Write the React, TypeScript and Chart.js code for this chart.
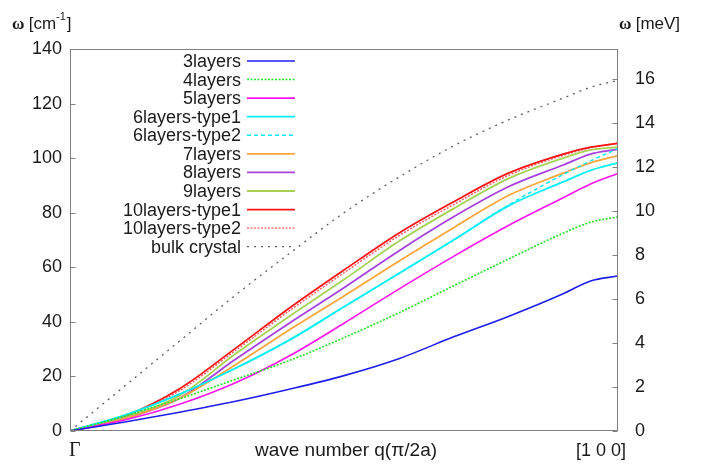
import React, { useEffect, useRef } from 'react';
import { Chart, registerables } from 'chart.js';

Chart.register(...registerables);

// wave number q in units of (pi/2a), from Gamma (0) to [1 0 0] (1)
const Q = [0, 0.1, 0.2, 0.3, 0.4, 0.5, 0.6, 0.7, 0.8, 0.9, 0.95, 1.0];

// omega in cm^-1
const layers3 = [0, 3.3, 6.9, 10.8, 15.3, 20.3, 26.5, 34.5, 42, 50.3, 55, 56.8];
const layers4 = [0, 5.5, 11.8, 18.8, 25.8, 34.2, 43.3, 53.2, 63, 72.5, 76.5, 78.5];
const layers5 = [0, 4, 9.8, 17.5, 27.5, 39.5, 52, 64, 75.3, 85.5, 90.5, 94.4];
const layers6t1 = [0, 5.8, 13.5, 22.8, 33.3, 45.5, 57.7, 70, 82.5, 91.3, 95.5, 98.3];
const layers6t2 = [0, 5.8, 13.5, 22.8, 33.3, 45.5, 57.7, 70, 82.8, 94, 99, 103.6];
const layers7 = [0, 4.5, 12, 24, 37, 49.5, 62.2, 74.5, 86.3, 94.5, 98.3, 100.9];
const layers8 = [0, 4.5, 12, 26, 39.5, 52.5, 66, 78.5, 89.5, 97.5, 101.5, 103.2];
const layers9 = [0, 5, 13, 28, 42, 55.5, 69.5, 81.5, 92.5, 100, 103, 104];
const layers10t1 = [0, 5.5, 15.5, 30, 45, 59, 72.5, 84, 94.5, 101.5, 104, 105.4];
const layers10t2 = [0, 5.3, 14.8, 29.2, 44, 58, 71.5, 83, 93.7, 101, 103.8, 105.6];
const bulk = [0, 16.5, 33, 49.5, 65, 80, 93, 104.5, 114, 122, 126, 128.5];

const LABELS = [
  '3layers', '4layers', '5layers', '6layers-type1', '6layers-type2', '7layers',
  '8layers', '9layers', '10layers-type1', '10layers-type2', 'bulk crystal',
];
const SERIES = [layers3, layers4, layers5, layers6t1, layers6t2, layers7, layers8, layers9, layers10t1, layers10t2, bulk];

const LEFT_TICKS = [0, 20, 40, 60, 80, 100, 120, 140];
const RIGHT_TICKS = [0, 2, 4, 6, 8, 10, 12, 14, 16];
const CM_PER_MEV = 8.0655;

const STYLES = [
  { color: 'rgb(30,30,235)', dash: [] as number[], width: 1.6 },
  { color: 'rgb(40,225,40)', dash: [2, 1.5], width: 1.6 },
  { color: 'rgb(255,20,240)', dash: [], width: 1.6 },
  { color: 'rgb(0,240,245)', dash: [], width: 1.8 },
  { color: 'rgb(0,235,245)', dash: [4, 3], width: 1.4 },
  { color: 'rgb(255,165,60)', dash: [], width: 1.8 },
  { color: 'rgb(165,65,220)', dash: [], width: 1.8 },
  { color: 'rgb(165,210,85)', dash: [], width: 1.8 },
  { color: 'rgb(255,20,20)', dash: [], width: 1.8 },
  { color: 'rgb(255,90,90)', dash: [2, 1.5], width: 1.4 },
  { color: 'rgb(95,95,95)', dash: [2, 5], width: 1.3 },
];

const overlay = {
  id: 'overlay',
  afterDraw(chart: any) {
    const { ctx, chartArea: a, scales } = chart;
    ctx.save();
    // frame
    ctx.strokeStyle = '#808080';
    ctx.lineWidth = 1;
    ctx.setLineDash([]);
    const L = Math.round(a.left) + 0.5, R = Math.round(a.right) - 0.5;
    const T = Math.round(a.top) + 0.5, B = Math.round(a.bottom) - 0.5;
    ctx.strokeRect(L, T, R - L, B - T);
    // inner ticks
    ctx.beginPath();
    LEFT_TICKS.forEach((v) => {
      const py = Math.round(scales.y.getPixelForValue(v)) + 0.5;
      ctx.moveTo(L, py); ctx.lineTo(L + 5, py);
    });
    RIGHT_TICKS.forEach((v) => {
      const py = Math.round(scales.y2.getPixelForValue(v)) + 0.5;
      ctx.moveTo(R, py); ctx.lineTo(R - 5, py);
    });
    ctx.stroke();

    // legend
    const textRight = 241, keyL = 247, keyR = 295, row0 = 61, rowH = 18.57;
    ctx.font = '18px "Liberation Sans", Arial, sans-serif';
    ctx.textAlign = 'right';
    ctx.textBaseline = 'middle';
    LABELS.forEach((lab, i) => {
      const yy = row0 + i * rowH;
      ctx.fillStyle = '#1a1a1a';
      ctx.fillText(lab, textRight, yy + 1);
      const s = STYLES[i];
      ctx.strokeStyle = s.color;
      ctx.lineWidth = s.width;
      ctx.setLineDash(s.dash);
      ctx.beginPath();
      ctx.moveTo(keyL, yy); ctx.lineTo(keyR, yy);
      ctx.stroke();
    });
    ctx.setLineDash([]);

    // axis titles
    ctx.fillStyle = '#1a1a1a';
    ctx.textBaseline = 'alphabetic';
    ctx.textAlign = 'left';
    let x = 12;
    const by = 29;
    ctx.font = 'bold 17px "Liberation Serif", serif';
    ctx.fillText('ω', x, by);
    x += ctx.measureText('ω ').width;
    ctx.font = '17px "Liberation Sans", Arial, sans-serif';
    ctx.fillText('[cm', x, by);
    x += ctx.measureText('[cm').width;
    ctx.font = '11px "Liberation Sans", Arial, sans-serif';
    ctx.fillText('-1', x, by - 9);
    x += ctx.measureText('-1').width + 1;
    ctx.font = '17px "Liberation Sans", Arial, sans-serif';
    ctx.fillText(']', x, by);

    x = 619;
    ctx.font = 'bold 17px "Liberation Serif", serif';
    ctx.fillText('ω', x, by);
    x += ctx.measureText('ω ').width;
    ctx.font = '17px "Liberation Sans", Arial, sans-serif';
    ctx.fillText('[meV]', x, by);

    // x-axis labels
    const bx = 456;
    ctx.font = '20px "Liberation Serif", serif';
    ctx.fillText('Γ', 69, bx);
    ctx.font = '19px "Liberation Sans", Arial, sans-serif';
    ctx.textAlign = 'center';
    ctx.fillText('wave number q(π/2a)', 346, bx);
    ctx.font = '18px "Liberation Sans", Arial, sans-serif';
    ctx.textAlign = 'right';
    ctx.fillText('[1 0 0]', 626, bx);
    ctx.restore();
  },
};

export default function App() {
  const ref = useRef<HTMLCanvasElement | null>(null);
  useEffect(() => {
    document.body.style.margin = '0';
    const canvas = ref.current;
    if (!canvas) return;
    const datasets = SERIES.map((vals, i) => ({
      label: LABELS[i],
      data: Q.map((q, j) => ({ x: q, y: vals[j] })),
      borderColor: STYLES[i].color,
      borderWidth: STYLES[i].width,
      borderDash: STYLES[i].dash,
      pointRadius: 0,
      fill: false,
      cubicInterpolationMode: 'monotone' as const,
      yAxisID: 'y',
    }));
    // draw order: bulk first, then layers so red is on top
    const ordered = [datasets[10], ...datasets.slice(0, 10)];
    const chart = new Chart(canvas, {
      type: 'line',
      data: { datasets: ordered },
      options: {
        animation: false,
        responsive: false,
        maintainAspectRatio: false,
        layout: { padding: { top: 49, left: 0, right: 0, bottom: 0 } },
        plugins: { legend: { display: false }, tooltip: { enabled: false }, title: { display: false } },
        scales: {
          x: {
            type: 'linear',
            min: 0,
            max: 1,
            grid: { display: false, drawTicks: false },
            border: { display: false },
            ticks: { display: false },
            afterFit: (s: any) => { s.height = 33; },
          },
          y: {
            type: 'linear',
            position: 'left',
            min: 0,
            max: 140,
            grid: { display: false, drawTicks: false },
            border: { display: false },
            ticks: {
              stepSize: 20,
              padding: 8,
              color: '#1a1a1a',
              font: { family: '"Liberation Sans", Arial, sans-serif', size: 18 },
            },
            afterBuildTicks: (s: any) => { s.ticks = LEFT_TICKS.map((v) => ({ value: v })); },
            afterFit: (s: any) => { s.width = 70; },
          },
          y2: {
            type: 'linear',
            position: 'right',
            min: 0,
            max: 140 / CM_PER_MEV,
            grid: { display: false, drawTicks: false },
            border: { display: false },
            ticks: {
              padding: 17,
              color: '#1a1a1a',
              font: { family: '"Liberation Sans", Arial, sans-serif', size: 18 },
            },
            afterBuildTicks: (s: any) => { s.ticks = RIGHT_TICKS.map((v) => ({ value: v })); },
            afterFit: (s: any) => { s.width = 84; },
          },
        },
      },
      plugins: [overlay],
    });
    return () => chart.destroy();
  }, []);
  return (
    <div style={{ width: 702, height: 464, background: '#fff' }}>
      <canvas ref={ref} width={702} height={464} style={{ display: 'block' }} />
    </div>
  );
}
